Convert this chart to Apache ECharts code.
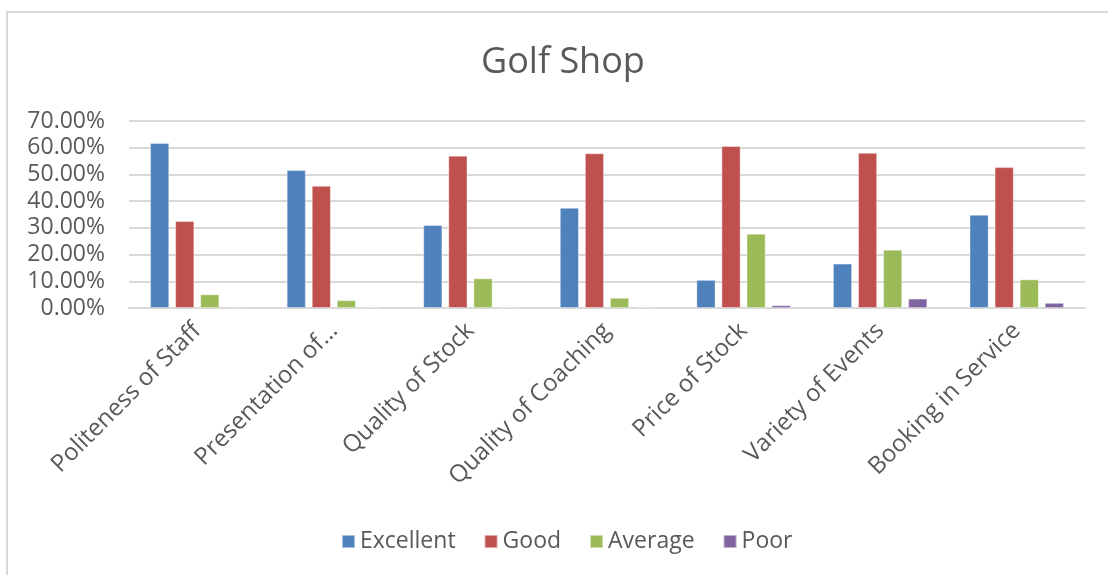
<!DOCTYPE html>
<html>
<head>
<meta charset="utf-8">
<script src="https://cdn.jsdelivr.net/npm/echarts@6/dist/echarts.min.js"></script>
<style>
html,body{margin:0;padding:0;background:#fff;}
#chart{width:1108px;height:575px;}
</style>
</head>
<body>
<div id="chart"></div>
<script>
var categories = ["Politeness of Staff", "Presentation of…", "Quality of Stock", "Quality of Coaching", "Price of Stock", "Variety of Events", "Booking in Service"];
var seriesNames = ["Excellent", "Good", "Average", "Poor"];
var excellent = [61.7, 51.6, 31.0, 37.5, 10.5, 16.6, 34.9];
var good = [32.5, 45.7, 57.0, 57.9, 60.6, 58.1, 52.7];
var average = [5.1, 2.9, 11.1, 3.8, 27.8, 21.8, 10.7];
var poor = [0.4, 0.3, 0.3, 0.0, 1.0, 3.5, 1.9];
var colors = ["#4F81BD", "#C0504D", "#9BBB59", "#8064A2"];

var FONT = "'Open Sans', sans-serif";
var chart = echarts.init(document.getElementById('chart'));
var dataSets = [excellent, good, average, poor];
var series = seriesNames.map(function (n, i) {
  return {
    name: n,
    type: 'bar',
    data: dataSets[i],
    barWidth: 19,
    barGap: '32%',
    barMinHeight: dataSets[i] === poor ? 1 : 0,
    itemStyle: { color: colors[i], borderColor: 'rgba(255,255,255,0.5)', borderWidth: 0.8 }
  };
});

chart.setOption({
  animation: false,
  color: colors,
  title: {
    text: 'Golf Shop',
    left: 476,
    top: 40,
    textStyle: { fontFamily: FONT, fontSize: 36, fontWeight: 'normal', color: '#595959' }
  },
  graphic: [{
    type: 'rect',
    shape: { x: 7, y: 12, width: 1200, height: 700 },
    style: { fill: 'none', stroke: '#d9d9d9', lineWidth: 2 },
    silent: true
  }],
  legend: {
    data: seriesNames,
    bottom: 17,
    left: 336,
    itemWidth: 13,
    itemHeight: 13,
    itemGap: 28,
    icon: 'rect',
    textStyle: { fontFamily: FONT, fontSize: 23, color: '#595959' }
  },
  grid: { left: 129, right: 23, top: 121, bottom: 267, containLabel: false },
  xAxis: {
    type: 'category',
    data: categories,
    axisTick: { show: false },
    axisLine: { lineStyle: { color: '#d9d9d9', width: 2 } },
    axisLabel: {
      rotate: 45,
      interval: 0,
      margin: 19,
      fontFamily: FONT,
      fontSize: 24,
      color: '#595959'
    }
  },
  yAxis: {
    type: 'value',
    min: 0,
    max: 70,
    interval: 10,
    axisLine: { show: false },
    axisTick: { show: false },
    splitLine: { lineStyle: { color: '#d9d9d9', width: 2 } },
    axisLabel: {
      margin: 24,
      fontFamily: FONT,
      fontSize: 23,
      color: '#595959',
      formatter: function (v) { return v.toFixed(2) + '%'; }
    }
  },
  series: series
});
</script>
</body>
</html>
